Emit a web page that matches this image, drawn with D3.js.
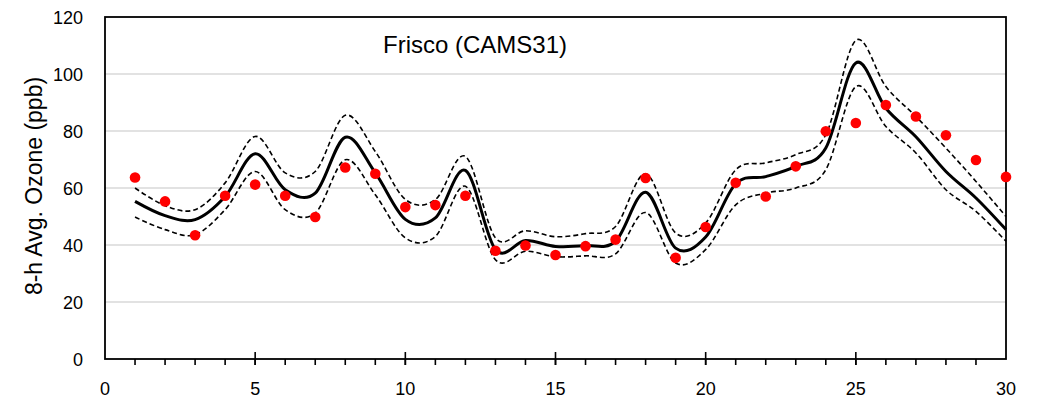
<!DOCTYPE html>
<html>
<head>
<meta charset="utf-8">
<script src="https://cdn.jsdelivr.net/npm/d3@7"></script>
<style>
  body { margin: 0; background: #fff; }
  svg text { font-family: "Liberation Sans", Arial, sans-serif; fill: #000; }
</style>
</head>
<body>
<svg id="chart" width="1041" height="398"></svg>
<script>
// day of the month
const days = [1, 2, 3, 4, 5, 6, 7, 8, 9, 10, 11, 12, 13, 14, 15,
              16, 17, 18, 19, 20, 21, 22, 23, 24, 25, 26, 27, 28, 29, 30];

// observed 8-h ozone (red dots)
const observed = [63.7, 55.3, 43.4, 57.3, 61.2, 57.3, 49.8, 67.2, 65, 53.3,
                  54, 57.3, 38, 39.8, 36.5, 39.6, 41.9, 63.5, 35.5, 46.3,
                  61.8, 57, 67.6, 79.9, 82.8, 89.1, 85.1, 78.5, 69.8, 63.9];

// modelled (solid line) and its upper / lower bounds (dashed)
const modeled = [55.3, 50.3, 48.9, 57, 72, 59.4, 58.2, 77.8, 65.3, 49,
                 49.5, 66.2, 38.4, 41.6, 39.5, 39.8, 41.3, 58.5, 38.9, 42.8,
                 61.5, 64, 67.6, 74, 103.9, 88, 78, 65.8, 56.5, 45.4];
const upper = [60, 53.8, 52.4, 61.8, 78.1, 65.3, 65.8, 85.5, 72.8, 56,
               55.9, 71.1, 42.5, 45, 42.9, 44, 46.5, 65, 44.2, 47.7,
               66.4, 68.8, 71.7, 78.7, 111.8, 95.6, 85.1, 74, 62.3, 50];
const lower = [49.8, 45.4, 43.6, 52.4, 65.8, 52.4, 51.2, 69.9, 57.6, 42.5,
               43, 60.6, 34.8, 37.8, 35.9, 36.2, 36.9, 51.4, 33.7, 38.4,
               54.1, 58.2, 60, 66.4, 95.6, 81.6, 72.3, 59.4, 51.8, 41.3];

const yTicks = [0, 20, 40, 60, 80, 100, 120];
const xTicks = [0, 5, 10, 15, 20, 25, 30];
const title = "Frisco (CAMS31)";
const yLabel = "8-h Avg. Ozone (ppb)";

const plotLeft = 105, plotRight = 1006, plotTop = 17, plotBottom = 359;
const svg = d3.select("#chart");

const x = d3.scaleLinear().domain([0, 30]).range([plotLeft, plotRight]);
const y = d3.scaleLinear().domain([0, 120]).range([plotBottom, plotTop]);

// gridlines
svg.append("g")
  .selectAll("line")
  .data(yTicks.filter(d => d > 0 && d < 120))
  .enter().append("line")
  .attr("x1", plotLeft).attr("x2", plotRight)
  .attr("y1", d => y(d)).attr("y2", d => y(d))
  .attr("stroke", "#d9d9d9").attr("stroke-width", 1.4);

// y tick labels
svg.append("g")
  .selectAll("text")
  .data(yTicks)
  .enter().append("text")
  .attr("x", 83)
  .attr("y", d => y(d) + 6.5)
  .attr("text-anchor", "end")
  .attr("font-size", 18)
  .text(d => d);

// x axis: minor ticks outside, major ticks crossing
const xAxis = svg.append("g");
xAxis.selectAll("line.minor")
  .data(d3.range(1, 30))
  .enter().append("line")
  .attr("class", "minor")
  .attr("x1", d => x(d)).attr("x2", d => x(d))
  .attr("y1", plotBottom).attr("y2", plotBottom + 6)
  .attr("stroke", "#000").attr("stroke-width", 1.6);
xAxis.selectAll("line.major")
  .data(xTicks.slice(1, -1))
  .enter().append("line")
  .attr("class", "major")
  .attr("x1", d => x(d)).attr("x2", d => x(d))
  .attr("y1", plotBottom - 7).attr("y2", plotBottom + 6)
  .attr("stroke", "#000").attr("stroke-width", 1.6);
xAxis.selectAll("text")
  .data(xTicks)
  .enter().append("text")
  .attr("x", d => x(d))
  .attr("y", 395)
  .attr("text-anchor", "middle")
  .attr("font-size", 18)
  .text(d => d);

// frame
svg.append("rect")
  .attr("x", plotLeft).attr("y", plotTop)
  .attr("width", plotRight - plotLeft).attr("height", plotBottom - plotTop)
  .attr("fill", "none").attr("stroke", "#000").attr("stroke-width", 1.8);

// lines
const line = vals => d3.line()
  .x((d, i) => x(days[i]))
  .y(d => y(d))
  .curve(d3.curveCardinal.tension(0))(vals);

svg.append("path").attr("d", line(upper))
  .attr("fill", "none").attr("stroke", "#000")
  .attr("stroke-width", 1.6).attr("stroke-dasharray", "5,3");
svg.append("path").attr("d", line(lower))
  .attr("fill", "none").attr("stroke", "#000")
  .attr("stroke-width", 1.6).attr("stroke-dasharray", "5,3");
svg.append("path").attr("d", line(modeled))
  .attr("fill", "none").attr("stroke", "#000")
  .attr("stroke-width", 3);

// observed points
svg.append("g")
  .selectAll("circle")
  .data(observed)
  .enter().append("circle")
  .attr("cx", (d, i) => x(days[i]))
  .attr("cy", d => y(d))
  .attr("r", 5.3)
  .attr("fill", "#ff0000");

// title
svg.append("text")
  .attr("x", 383).attr("y", 53)
  .attr("font-size", 24)
  .text(title);

// y label
svg.append("text")
  .attr("transform", "translate(42,186) rotate(-90)")
  .attr("text-anchor", "middle")
  .attr("font-size", 23)
  .text(yLabel);
</script>
</body>
</html>
